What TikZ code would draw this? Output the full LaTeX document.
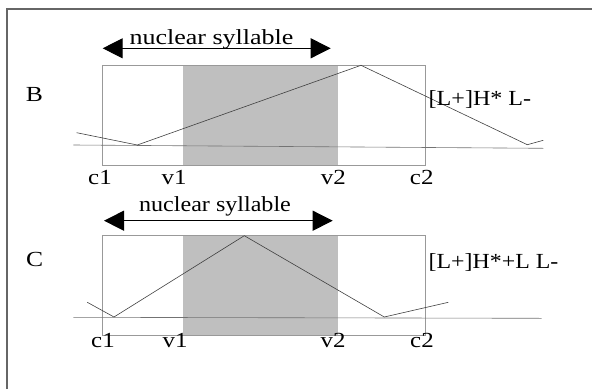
\documentclass[tikz,border=0pt]{standalone}
\usepackage{fontspec}
\setmainfont{Liberation Serif}
\usepackage{graphicx}
\usetikzlibrary{arrows.meta}
\tikzset{
  frameline/.style={draw=black!60, line width=1.5pt},
  boxline/.style={draw=black!40, line width=0.8pt},
  shadebox/.style={fill=black!25},
  contour/.style={draw=black!75, line width=0.6pt},
  baseln/.style={draw=black!55, line width=0.6pt},
  nsarrow/.style={line width=1pt, {Triangle[length=20pt,width=20pt]}-{Triangle[length=20pt,width=20pt]}},
  lbl/.style={inner sep=0pt, font=\fontsize{21.5}{25}\selectfont},
}
\newcommand{\sx}[2]{\scalebox{#1}[1]{#2}}
\begin{document}
\begin{tikzpicture}[x=1pt,y=-1pt]
\useasboundingbox (0,0) rectangle (592,389);
% frame
\coordinate (fbl) at (7,389);
\coordinate (ftl) at (7,9);
\coordinate (ftr) at (592,9);
\draw[frameline] (fbl) -- (ftl) -- (ftr);

% ---------- Panel B ----------
\fill[shadebox] (183,65.7) rectangle (338.3,165);
\draw[boxline] (102.7,65.7) rectangle (425,165);
\coordinate (bb1) at (73.3,145);
\coordinate (bb2) at (543.3,148.3);
\draw[baseln] (bb1) -- (bb2);
\coordinate (b1) at (76.7,132.7);
\coordinate (b2) at (137.3,145);
\coordinate (b3) at (361,65.3);
\coordinate (b4) at (527.3,144.7);
\coordinate (b5) at (543.3,140.3);
\draw[contour] (b1) -- (b2) -- (b3) -- (b4) -- (b5);
\coordinate (ba1) at (102.7,48.3);
\coordinate (ba2) at (330.7,48.3);
\draw[nsarrow] (ba1) -- (ba2);
\node[lbl, anchor=base] (bns) at (211.5,44) {\sx{1.21}{nuclear syllable}};
\node[lbl, anchor=base] (bB) at (34.5,101) {\sx{1.19}{B}};
\node[lbl, anchor=base west] (btone) at (428.5,105) {\sx{1.12}{[L+]H* L-}};
\node[lbl, anchor=base] (bc1) at (100,184) {\sx{1.16}{c1}};
\node[lbl, anchor=base] (bv1) at (174,184) {\sx{1.16}{v1}};
\node[lbl, anchor=base] (bv2) at (333.3,184) {\sx{1.16}{v2}};
\node[lbl, anchor=base] (bc2) at (421.7,184) {\sx{1.16}{c2}};

% ---------- Panel C ----------
\fill[shadebox] (183,235.7) rectangle (338.3,335.5);
\draw[boxline] (102.7,235.7) rectangle (425,335.5);
\coordinate (cb1) at (73.3,317.3);
\coordinate (cb2) at (541.7,318.3);
\draw[baseln] (cb1) -- (cb2);
\coordinate (c1p) at (87.3,302.3);
\coordinate (c2p) at (114,317);
\coordinate (c3p) at (244.3,235.7);
\coordinate (c4p) at (384.3,317);
\coordinate (c5p) at (448.3,302.3);
\draw[contour] (c1p) -- (c2p) -- (c3p) -- (c4p) -- (c5p);
\coordinate (ca1) at (104,220.7);
\coordinate (ca2) at (332.7,220.7);
\draw[nsarrow] (ca1) -- (ca2);
\node[lbl, anchor=base] (cns) at (215,211.7) {\sx{1.12}{nuclear syllable}};
\node[lbl, anchor=base] (cC) at (34.7,266) {\sx{1.19}{C}};
\node[lbl, anchor=base west] (ctone) at (428.5,268.3) {\sx{1.11}{[L+]H*+L L-}};
\node[lbl, anchor=base] (cc1) at (103,347.7) {\sx{1.16}{c1}};
\node[lbl, anchor=base] (cv1) at (175,347.7) {\sx{1.16}{v1}};
\node[lbl, anchor=base] (cv2) at (333,347.7) {\sx{1.16}{v2}};
\node[lbl, anchor=base] (cc2) at (422,347.7) {\sx{1.16}{c2}};
\end{tikzpicture}
\end{document}
